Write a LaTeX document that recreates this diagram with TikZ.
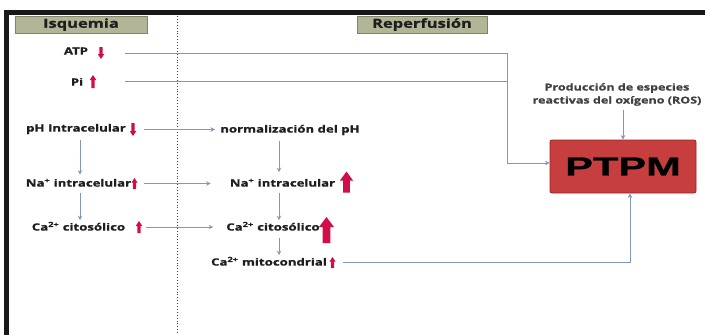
\documentclass[tikz,border=0pt]{standalone}
\usepackage{fontspec}
\setmainfont{Open Sans}[FakeStretch=1.32, BoldFeatures={FakeBold=0.8}]
\newfontfamily\ptpmfont{Liberation Sans}[FakeStretch=1.6, BoldFeatures={FakeBold=1.2}]
\usetikzlibrary{arrows.meta}
\definecolor{lineblue}{RGB}{128,152,190}
\definecolor{redarr}{RGB}{208,14,72}
\definecolor{ptpmfill}{RGB}{198,62,62}
\definecolor{ptpmdraw}{RGB}{150,38,38}
\definecolor{hdrfill}{RGB}{178,182,150}
\definecolor{hdrdraw}{RGB}{128,132,104}
\definecolor{txt}{RGB}{30,30,30}
\tikzset{
  lbl/.style={font=\bfseries\fontsize{10}{12}\selectfont, text=txt, inner sep=2pt, text height=7.2pt, text depth=2pt},
  hdr/.style={draw=hdrdraw, fill=hdrfill, line width=0.8pt, minimum height=17pt, font=\bfseries\fontsize{12.5}{14}\selectfont, text=txt, inner sep=0pt},
  conn/.style={draw=lineblue, line width=1pt},
  arr/.style={conn, -{Stealth[length=4.5pt,width=4.5pt]}},
  % block arrow: #1 = width, #2 = length, #3 = head length, #4 = shaft half width
  redup/.style n args={4}{rectangle, inner sep=0pt, minimum width=#1, minimum height=#2,
    path picture={\fill[redarr] (path picture bounding box.north)
      -- ([yshift=-#3]path picture bounding box.north east)
      -- ([yshift=-#3,xshift=#4]path picture bounding box.north)
      -- ([xshift=#4]path picture bounding box.south)
      -- ([xshift=-#4]path picture bounding box.south)
      -- ([yshift=-#3,xshift=-#4]path picture bounding box.north)
      -- ([yshift=-#3]path picture bounding box.north west) -- cycle;}},
  reddown/.style n args={4}{rectangle, inner sep=0pt, minimum width=#1, minimum height=#2,
    path picture={\fill[redarr] (path picture bounding box.south)
      -- ([yshift=#3]path picture bounding box.south east)
      -- ([yshift=#3,xshift=#4]path picture bounding box.south)
      -- ([xshift=#4]path picture bounding box.north)
      -- ([xshift=-#4]path picture bounding box.north)
      -- ([yshift=#3,xshift=-#4]path picture bounding box.south)
      -- ([yshift=#3]path picture bounding box.south west) -- cycle;}}
}
\begin{document}
\begin{tikzpicture}[x=1pt,y=-1pt]
\clip (0,0) rectangle (705,335);
\fill[white] (0,0) rectangle (705,335);
% frame
\draw[line width=5pt, black!90] (4,12.5) -- (705,12.5);
\draw[line width=4.5pt, black!90] (6.25,10) -- (6.25,335);
% divider
\draw[dotted, line width=0.9pt, black!75] (177,16) -- (177,335);
% headers
\node[hdr, minimum width=132pt] (hdrI) at (81,24.5) {Isquemia};
\node[hdr, minimum width=130pt] (hdrR) at (422,24.5) {Reperfusión};
% left column
\node[lbl] (atp) at (76,52) {ATP};
\node[reddown={6.5pt}{12pt}{5pt}{1.7pt}] (atpR) at (101,53) {};
\node[lbl] (pi) at (77,83) {Pi};
\node[redup={6.5pt}{13pt}{5pt}{1.7pt}] (piR) at (93,81.5) {};
\node[lbl] (phL) at (76,129) {pH Intracelular};
\node[reddown={6.5pt}{13pt}{5pt}{1.7pt}] (phR) at (133,129.5) {};
\node[lbl] (naL) at (78.5,184) {Na\textsuperscript{+} intracelular};
\node[redup={6pt}{11pt}{4.5pt}{1.6pt}] (naLR) at (134.5,183.5) {};
\node[lbl] (caL) at (78.5,228) {Ca\textsuperscript{2+} citosólico};
\node[redup={6.5pt}{12pt}{5pt}{1.7pt}] (caLR) at (139,227) {};
% right column
\node[lbl] (norm) at (290,130) {normalización del pH};
\node[lbl] (naR) at (282.5,184) {Na\textsuperscript{+} intracelular};
\node[redup={13pt}{21pt}{9pt}{3.4pt}] (naRR) at (346.5,182) {};
\node[lbl] (caR) at (273,228) {Ca\textsuperscript{2+} citosólico};
\node[redup={15pt}{26pt}{10pt}{3.9pt}] (caRR) at (326.5,230) {};
\node[lbl] (mito) at (269,263) {Ca\textsuperscript{2+} mitocondrial};
\node[redup={6pt}{11pt}{4.5pt}{1.6pt}] (mitoR) at (332.5,262.5) {};
% PTPM and ROS
\node[draw=ptpmdraw, fill=ptpmfill, line width=0.8pt, rounded corners=2pt, minimum width=146pt, minimum height=53pt, inner sep=0pt, font=\ptpmfont\bfseries\fontsize{26}{28}\selectfont] (ptpm) at (623,166.5) {PTPM};
\node[font=\bfseries\fontsize{9.5}{13}\selectfont, text=txt!85, align=center, inner sep=2pt] (ros) at (617,94.5) {Producción de especies\\reactivas del oxígeno (ROS)};
% junction coordinates
\coordinate (jx) at (507,0);
\coordinate (mx) at (630,0);
\coordinate (cL) at (80,0);
\coordinate (cR) at (279,0);
\coordinate (ptin) at ([yshift=3.5pt]ptpm.west);
% connectors
\draw[arr, shorten <=20.5pt] (atpR.east) -- (atpR.east -| jx) -- (jx |- ptin) -- (ptin);
\draw[conn, shorten <=28.5pt] (piR.east) -- (piR.east -| jx);
\draw[arr, shorten <=8pt, shorten >=3pt] (phR.east) -- (phR.east -| norm.west);
\draw[arr, shorten <=6pt, shorten >=17pt] (naLR.east) -- (naLR.east -| naR.west);
\draw[arr, shorten <=4pt, shorten >=11pt] (caLR.east) -- (caLR.east -| caR.west);
\draw[arr, shorten <=7pt] (mitoR.east) -- (mitoR.east -| mx) -- (ptpm.south -| mx);
\draw[arr, shorten <=2pt] (ros.south -| ptpm.north) -- (ptpm.north);
\draw[arr, shorten <=4.5pt, shorten >=2.5pt] (phL.south -| cL) -- (naL.north -| cL);
\draw[arr, shorten <=2pt, shorten >=1pt] (naL.south -| cL) -- (caL.north -| cL);
\draw[arr, shorten <=4pt, shorten >=5pt] (norm.south -| cR) -- (naR.north -| cR);
\draw[arr, shorten <=2pt, shorten >=1pt] (naR.south -| cR) -- (caR.north -| cR);
\draw[arr, shorten <=3pt, shorten >=1pt] (caR.south -| cR) -- (mito.north -| cR);
\end{tikzpicture}
\end{document}
